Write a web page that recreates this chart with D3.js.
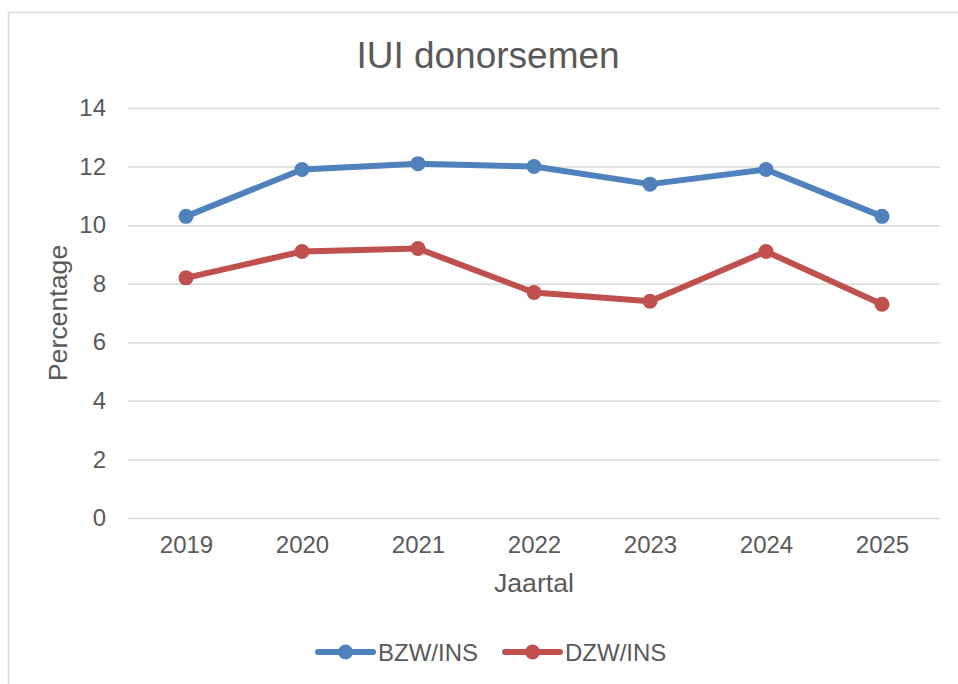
<!DOCTYPE html>
<html>
<head>
<meta charset="utf-8">
<script src="https://cdn.jsdelivr.net/npm/d3@7"></script>
<style>
  body { margin: 0; background: #fff; }
  svg text { font-family: "Liberation Sans", Arial, sans-serif; fill: #595959; }
</style>
</head>
<body>
<div id="chart"></div>
<script>
// data
const years = ["2019", "2020", "2021", "2022", "2023", "2024", "2025"];
const bzw = [10.3, 11.9, 12.1, 12.0, 11.4, 11.9, 10.3];
const dzw = [8.2, 9.1, 9.2, 7.7, 7.4, 9.1, 7.3];
const yTicks = [0, 2, 4, 6, 8, 10, 12, 14];
const seriesNames = ["BZW/INS", "DZW/INS"];
const colors = ["#4F81BD", "#C0504D"];

const W = 958, H = 684;
const margin = { top: 108, right: 18, bottom: 166, left: 128 };
const width = W - margin.left - margin.right;
const height = H - margin.top - margin.bottom;

const svg = d3.select("#chart").append("svg")
  .attr("width", W).attr("height", H);

// chart border
svg.append("rect")
  .attr("x", 8.5).attr("y", 12.5)
  .attr("width", W).attr("height", H)
  .attr("fill", "none").attr("stroke", "#d9d9d9").attr("stroke-width", 1.5);

const g = svg.append("g").attr("transform", `translate(${margin.left},${margin.top})`);

const x = d3.scalePoint().domain(years).range([0, width]).padding(0.5);
const y = d3.scaleLinear().domain([0, 14]).range([height, 0]);

// y axis + gridlines
const yAxis = g.append("g")
  .call(d3.axisLeft(y).tickValues(yTicks).tickSize(-width).tickPadding(22));
yAxis.select(".domain").remove();
yAxis.selectAll("line").attr("stroke", "#d9d9d9").attr("stroke-width", 1.5);
yAxis.selectAll("text").attr("font-size", 24).attr("fill", "#595959");

// x axis
const xAxis = g.append("g")
  .attr("transform", `translate(0,${height})`)
  .call(d3.axisBottom(x).tickSize(0).tickPadding(18));
xAxis.select(".domain").remove();
xAxis.selectAll("text").attr("font-size", 24).attr("fill", "#595959");

// series
const line = d3.line()
  .x((d, i) => x(years[i]))
  .y(d => y(d));

[bzw, dzw].forEach((vals, k) => {
  g.append("path")
    .datum(vals)
    .attr("d", line)
    .attr("fill", "none")
    .attr("stroke", colors[k])
    .attr("stroke-width", 6)
    .attr("stroke-linecap", "round")
    .attr("stroke-linejoin", "round");
  g.selectAll(".pt" + k)
    .data(vals)
    .join("circle")
    .attr("cx", (d, i) => x(years[i]))
    .attr("cy", d => y(d))
    .attr("r", 7.5)
    .attr("fill", colors[k]);
});

// titles
svg.append("text")
  .attr("x", 488).attr("y", 68)
  .attr("text-anchor", "middle")
  .attr("font-size", 37)
  .text("IUI donorsemen");

svg.append("text")
  .attr("x", margin.left + width / 2).attr("y", 592)
  .attr("text-anchor", "middle")
  .attr("font-size", 26.7)
  .text("Jaartal");

svg.append("text")
  .attr("transform", `translate(67,${margin.top + height / 2}) rotate(-90)`)
  .attr("text-anchor", "middle")
  .attr("font-size", 26.7)
  .text("Percentage");

// legend
const legendX = [318, 505];
seriesNames.forEach((name, k) => {
  const lg = svg.append("g").attr("transform", `translate(${legendX[k]},652)`);
  lg.append("line")
    .attr("x1", 0).attr("x2", 55)
    .attr("stroke", colors[k]).attr("stroke-width", 6)
    .attr("stroke-linecap", "round");
  lg.append("circle").attr("cx", 27.5).attr("r", 7.5).attr("fill", colors[k]);
  lg.append("text")
    .attr("x", 60).attr("y", 8.5)
    .attr("font-size", 24)
    .text(name);
});
</script>
</body>
</html>
